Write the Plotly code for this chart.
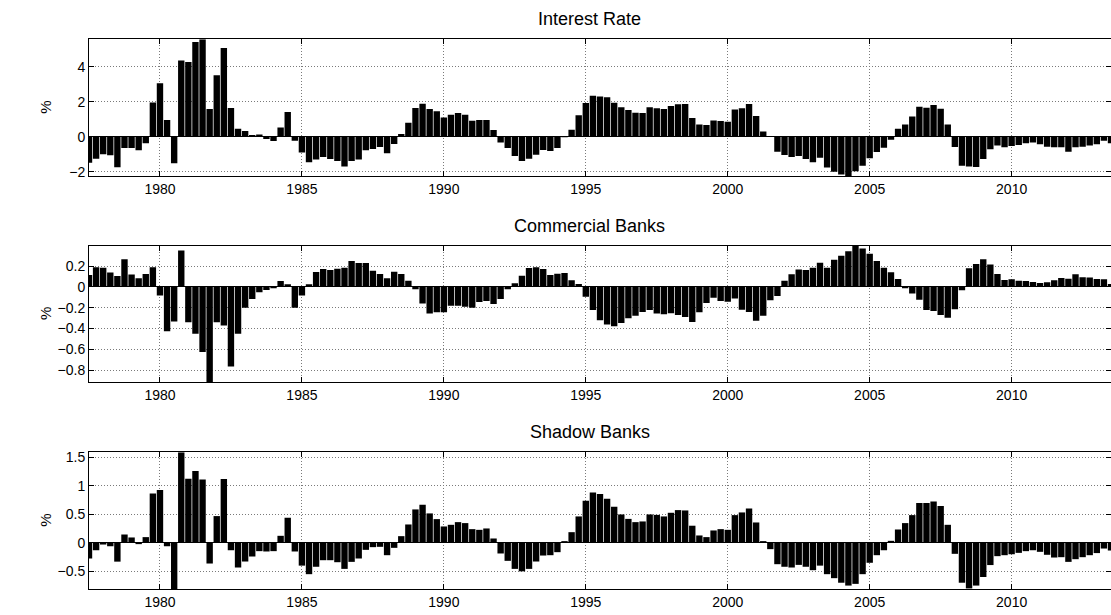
import plotly.graph_objects as go

start_year = 1977.5  # first quarter shown (1977Q3)

interest_rate = [
    -1.49, -1.26, -1.01, -1.07, -1.75, -0.65, -0.65, -0.78, -0.38, 1.96,
    3.05, 0.95, -1.52, 4.36, 4.27, 5.41, 5.57, 1.58, 3.52, 5.07,
    1.64, 0.46, 0.32, 0.10, 0.13, -0.13, -0.25, 0.53, 1.41, -0.23,
    -0.91, -1.47, -1.31, -1.16, -1.28, -1.39, -1.71, -1.39, -1.31, -0.78,
    -0.70, -0.59, -0.95, -0.42, 0.15, 0.80, 1.64, 1.89, 1.58, 1.45,
    1.10, 1.26, 1.35, 1.26, 0.91, 0.95, 0.95, 0.38, -0.34, -0.65,
    -1.10, -1.39, -1.26, -1.03, -0.76, -0.82, -0.65, -0.04, 0.40, 1.22,
    1.92, 2.34, 2.30, 2.25, 1.94, 1.68, 1.52, 1.37, 1.35, 1.68,
    1.62, 1.58, 1.75, 1.85, 1.87, 1.07, 0.70, 0.67, 0.93, 0.90,
    0.86, 1.56, 1.62, 1.87, 1.18, 0.30, -0.02, -0.86, -1.05, -1.16,
    -1.10, -1.28, -1.47, -1.20, -1.77, -2.00, -2.17, -2.25, -1.98, -1.66,
    -1.23, -0.88, -0.63, -0.17, 0.46, 0.70, 1.16, 1.71, 1.66, 1.81,
    1.60, 0.70, -0.59, -1.66, -1.71, -1.73, -1.28, -0.72, -0.51, -0.61,
    -0.53, -0.48, -0.38, -0.34, -0.44, -0.57, -0.61, -0.61, -0.86, -0.61,
    -0.57, -0.51, -0.44, -0.23, -0.38,
]

commercial_banks = [
    0.115, 0.19, 0.186, 0.14, 0.106, 0.266, 0.12, 0.083, 0.125, 0.19,
    -0.083, -0.426, -0.333, 0.35, -0.34, -0.45, -0.625, -0.917, -0.34, -0.37,
    -0.766, -0.45, -0.20, -0.115, -0.05, -0.03, -0.013, 0.058, 0.026, -0.20,
    -0.083, 0.026, 0.144, 0.173, 0.163, 0.176, 0.186, 0.25, 0.23, 0.23,
    0.157, 0.125, 0.083, 0.147, 0.125, 0.061, -0.022, -0.16, -0.256, -0.244,
    -0.244, -0.18, -0.18, -0.19, -0.20, -0.144, -0.135, -0.163, -0.115, -0.022,
    0.035, 0.109, 0.183, 0.189, 0.173, 0.115, 0.128, 0.135, 0.064, 0.029,
    -0.093, -0.221, -0.32, -0.36, -0.378, -0.346, -0.30, -0.276, -0.24, -0.221,
    -0.256, -0.263, -0.253, -0.27, -0.288, -0.337, -0.244, -0.154, -0.103, -0.135,
    -0.141, -0.112, -0.218, -0.24, -0.324, -0.276, -0.128, -0.087, 0.061, 0.122,
    0.167, 0.163, 0.186, 0.234, 0.186, 0.263, 0.30, 0.343, 0.395, 0.369,
    0.32, 0.25, 0.186, 0.141, 0.077, -0.013, -0.064, -0.122, -0.221, -0.23,
    -0.27, -0.295, -0.215, -0.032, 0.18, 0.221, 0.266, 0.215, 0.125, 0.067,
    0.074, 0.061, 0.058, 0.048, 0.038, 0.045, 0.064, 0.087, 0.08, 0.122,
    0.093, 0.09, 0.077, 0.074, 0.029,
]

shadow_banks = [
    -0.275, -0.13, -0.03, -0.06, -0.33, 0.146, 0.094, -0.023, 0.10, 0.867,
    0.925, -0.06, -0.81, 1.588, 1.125, 1.26, 1.113, -0.363, 0.469, 1.119,
    -0.13, -0.433, -0.328, -0.24, -0.146, -0.152, -0.146, 0.123, 0.44, -0.152,
    -0.40, -0.55, -0.42, -0.305, -0.305, -0.34, -0.457, -0.334, -0.275, -0.123,
    -0.076, -0.07, -0.217, -0.088, 0.117, 0.322, 0.586, 0.668, 0.516, 0.416,
    0.287, 0.316, 0.363, 0.346, 0.24, 0.228, 0.252, 0.076, -0.187, -0.316,
    -0.457, -0.50, -0.457, -0.328, -0.223, -0.217, -0.164, 0.03, 0.187, 0.463,
    0.738, 0.885, 0.855, 0.773, 0.633, 0.498, 0.42, 0.363, 0.375, 0.498,
    0.49, 0.463, 0.527, 0.574, 0.568, 0.30, 0.129, 0.10, 0.217, 0.24,
    0.228, 0.486, 0.533, 0.603, 0.357, 0.03, -0.111, -0.375, -0.42, -0.433,
    -0.387, -0.42, -0.48, -0.40, -0.55, -0.62, -0.70, -0.75, -0.72, -0.55,
    -0.35, -0.217, -0.13, 0.035, 0.234, 0.346, 0.486, 0.697, 0.697, 0.726,
    0.644, 0.316, -0.193, -0.70, -0.80, -0.75, -0.60, -0.39, -0.234, -0.217,
    -0.20, -0.176, -0.146, -0.13, -0.158, -0.21, -0.258, -0.252, -0.334, -0.287,
    -0.252, -0.217, -0.18, -0.10, -0.135,
]

titles = ["Interest Rate", "Commercial Banks", "Shadow Banks"]
y_label = "%"
series = [interest_rate, commercial_banks, shadow_banks]
y_ranges = [[-2.25, 5.57], [-0.917, 0.397], [-0.81, 1.588]]
y_ticks = [[-2, 0, 2, 4], [-0.8, -0.6, -0.4, -0.2, 0, 0.2], [-0.5, 0, 0.5, 1, 1.5]]
x_ticks = [1980, 1985, 1990, 1995, 2000, 2005, 2010]
x_range = [1977.5, 2013.5]

W, H = 1111, 615
L = 89
panel_px = [(39.3, 176.0), (245.7, 382.3), (452.3, 589.0)]  # top, bottom in px

FONT = "Liberation Sans, Arial, Helvetica, sans-serif"
GRID = dict(showgrid=True, gridcolor="#7a7a7a", griddash="1px,2px", gridwidth=1)

fig = go.Figure()
layout = dict(
    width=W, height=H,
    margin=dict(l=L, r=0, t=0, b=0, autoexpand=False),
    paper_bgcolor="white", plot_bgcolor="white",
    showlegend=False, bargap=0.1,
    font=dict(family=FONT, size=14, color="black"),
)
annotations = []
for i, (vals, title) in enumerate(zip(series, titles)):
    xs = [start_year + 0.25 * k for k in range(len(vals))]
    suffix = "" if i == 0 else str(i + 1)
    fig.add_trace(go.Bar(
        x=xs, y=vals, marker=dict(color="black", line=dict(width=0)),
        xaxis="x" + suffix, yaxis="y" + suffix, hoverinfo="skip",
    ))
    top, bot = panel_px[i]
    dom = [1 - bot / H, 1 - top / H]
    layout["xaxis" + suffix] = dict(
        domain=[0, 1], range=x_range, anchor="y" + suffix,
        tickvals=x_ticks, ticks="inside", ticklen=5, tickcolor="black",
        showline=True, linecolor="black", linewidth=1, mirror="ticks",
        zeroline=False, tickfont=dict(size=14), **GRID,
    )
    layout["yaxis" + suffix] = dict(
        domain=dom, range=y_ranges[i], anchor="x" + suffix,
        tickvals=y_ticks[i], ticks="inside", ticklen=5, tickcolor="black",
        showline=True, linecolor="black", linewidth=1, mirror="ticks",
        zeroline=True, zerolinecolor="black", zerolinewidth=1,
        tickfont=dict(size=14), **GRID,
    )
    annotations.append(dict(
        text=title, xref="paper", yref="paper", x=0.4898, y=dom[1],
        yshift=8, xanchor="center", yanchor="bottom", showarrow=False,
        font=dict(size=18, family=FONT),
    ))
    annotations.append(dict(
        text=y_label, xref="paper", yref="paper",
        x=(46 - L) / (W - L), y=(dom[0] + dom[1]) / 2,
        xanchor="center", yanchor="middle", textangle=-90, showarrow=False,
        font=dict(size=15, family=FONT),
    ))
layout["annotations"] = annotations
fig.update_layout(**layout)
fig.write_html(
    "out.html",
    config={"displayModeBar": False, "staticPlot": True},
    post_script="document.body.style.margin='0px';",
)
